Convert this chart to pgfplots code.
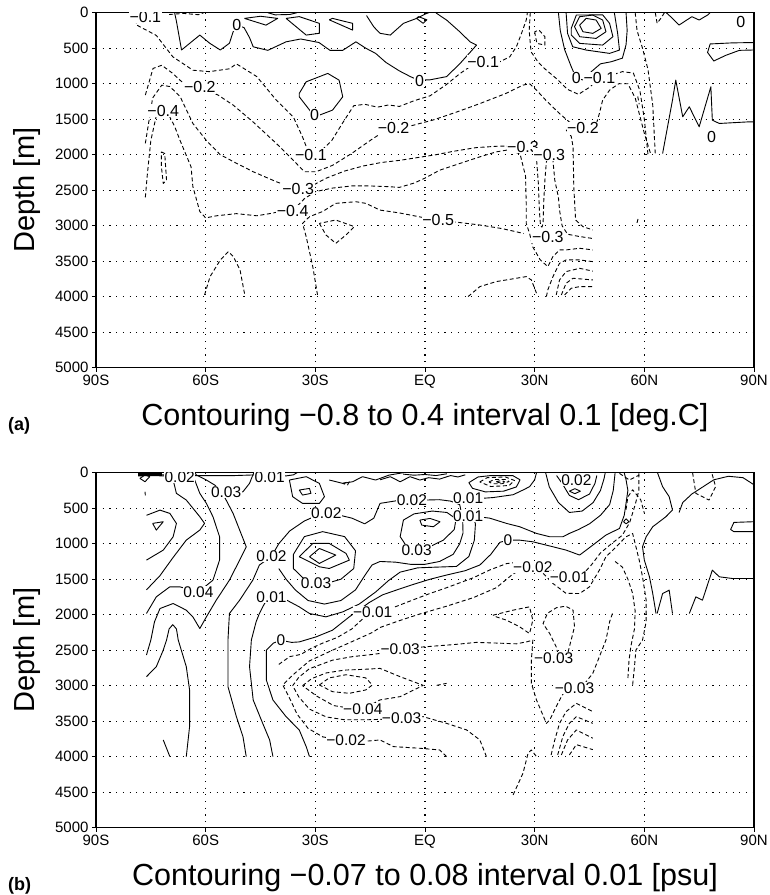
\documentclass[border=0pt]{standalone}
\usepackage{fontspec}
\setmainfont{Liberation Sans}
\usepackage{pgfplots}
\pgfplotsset{compat=1.18}
\tikzset{
  pl/.style={black, line width=0.9pt, line join=round},
  nl/.style={black, line width=0.9pt, line join=round, dash pattern=on 4pt off 2.6pt},
  lab/.style={fill=white, inner sep=0.6pt, font=\fontsize{16}{16}\selectfont},
  labb/.style={fill=white, inner sep=0.4pt, font=\fontsize{15.5}{16}\selectfont},
}
\pgfplotsset{
  panel/.style={
    anchor=north west,
    width=658pt, height=355pt, scale only axis,
    xmin=-90, xmax=90, ymin=0, ymax=5000, y dir=reverse,
    xtick={-90,-60,-30,0,30,60,90},
    xticklabels={90S,60S,30S,EQ,30N,60N,90N},
    ytick={0,500,1000,1500,2000,2500,3000,3500,4000,4500,5000},
    yticklabels={0,500,1000,1500,2000,2500,3000,3500,4000,4500,5000},
    grid=major,
    major grid style={black, line width=1.1pt, dash pattern=on 1.1pt off 5.6pt},
    tick align=outside, tick pos=left, major tick length=4pt,
    tick style={black, line width=1pt},
    axis line style={line width=1.5pt},
    tick label style={font=\fontsize{15}{16}\selectfont},
    clip=true,
  }
}
\begin{document}
\begin{tikzpicture}
\useasboundingbox (0pt,0pt) rectangle (770pt,-895pt);
% ================= PANEL A =================
\begin{axis}[panel, at={(96pt,-12.7pt)}]
% --- solid contours
\addplot[pl] coordinates {(-68.5,0)(-68,120)(-66.6,525)(-61.6,315)(-58.9,430)(-56,525)(-53.5,430)(-52.5,270)(-51.5,175)(-49.5,210)(-48,350)(-47,480)(-43,530)(-38,410)(-34,370)(-29,420)(-26,530)(-22.5,530)(-18.9,410)(-16.2,500)(-13.5,573)(-10.7,700)(-7,820)(-4,900)(-1.8,950)(1.4,945)(5.9,900)(9.5,720)(12.3,560)(14.1,456)(12.3,409)(9.5,268)(5.9,103)(3.2,10)(3,0)};
\addplot[pl] coordinates {(-16,40)(-14,200)(-12.3,290)(-9.5,315)(-5.9,150)(-2.3,80)(0,20)(1,0)};
\addplot[pl] coordinates {(-49.4,80)(-43.5,175)(-40.3,80)(-45,50)(-49.4,80)};
\addplot[pl] coordinates {(-38,80)(-32.5,315)(-28.9,290)(-28.9,150)(-34.4,55)(-38,80)};
\addplot[pl] coordinates {(-26.2,100)(-19.8,245)(-19.8,150)(-25.3,80)(-26.2,100)};
\addplot[pl] coordinates {(-2.3,80)(-0.5,150)(0.5,100)(-1.8,55)(-2.3,80)};
\addplot[pl] coordinates {(-43,0)(-41,30)(-37,25)(-35,0)};
\addplot[pl] coordinates {(-34.4,1137)(-32.5,973)(-26.6,855)(-23.5,950)(-22.5,1184)(-25.3,1372)(-28.9,1443)(-31.2,1396)(-34.4,1184)(-34.4,1137)};
\addplot[pl] coordinates {(42.3,174)(44.1,80)(46.8,103)(48.2,221)(45.9,291)(43.2,268)(42.3,174)};
\addplot[pl] coordinates {(40.9,197)(42.3,56)(45.9,33)(48.6,103)(49.5,268)(46.8,362)(42.3,338)(40.9,197)};
\addplot[pl] coordinates {(40,221)(41.4,33)(48.6,30)(50.5,150)(51.4,338)(48.6,456)(42.3,432)(40,315)(40,221)};
\addplot[pl] coordinates {(38.6,0)(39,291)(40.4,479)(44.1,526)(50.5,573)(53.2,526)(52.7,291)(51.8,0)};
\addplot[pl] coordinates {(36.5,0)(37,250)(38.2,520)(40,760)(41.4,925)(43.5,950)(45.5,830)(48,720)(51,690)(54,640)(55,450)(55.3,250)(55,0)};
\addplot[pl] coordinates {(65,1983)(67.7,1231)(68.6,950)(70.5,1466)(72.3,1325)(75,1607)(78.2,1043)(78.6,1513)(80.5,1560)(88.6,1537)(90,1537)};
\addplot[pl] coordinates {(90,420)(84,425)(78,440)(77.3,560)(79,680)(82.3,600)(86,530)(90,525)};
\addplot[pl] coordinates {(66,0)(67.7,80)(69.5,174)(73,56)(75,103)(77.3,33)(78,0)};
% --- dashed contours
\addplot[nl] coordinates {(-79,0)(-79,170)(-73.5,320)(-69,620)(-63.5,810)(-59,830)(-53.5,790)(-51.6,720)(-46,900)(-40.7,1230)(-36,1470)(-33.5,1750)(-32,1950)(-31.2,2000)(-28.5,1950)(-25.5,1800)(-22.5,1550)(-19.5,1310)(-16.5,1290)(-13,1330)(-10,1300)(-7,1320)(-3,1240)(1.4,1170)(5.9,1010)(9.5,860)(12.3,760)(14,700)(15.9,690)(18.5,690)(20.5,690)(23.2,620)(25,480)(26.4,291)(27.7,103)(28,0)};
\addplot[nl] coordinates {(28.8,0)(28.5,250)(29,550)(31,700)(33,800)(36,930)(39,1080)(42,1150)(45,1050)(47.7,925)(51,880)(54,830)(57,850)(58.8,1100)(60,1500)(61,2000)};
\addplot[nl] coordinates {(30,268)(30.6,432)(32.8,456)(32.8,338)(31.2,245)(30,268)};
\addplot[nl] coordinates {(-76.5,1160)(-74.4,785)(-72,740)(-69,855)(-66.6,970)(-61.6,1050)(-56.6,1160)(-52.5,1300)(-47,1540)(-40.7,1840)(-36,2080)(-33,2240)(-29.8,2240)(-25.3,2150)(-20,1980)(-15,1800)(-11.5,1680)(-8.6,1630)(-5,1610)(-1.4,1560)(2.3,1510)(8.6,1400)(15,1280)(22,1140)(26.8,1020)(28.6,1000)(30.5,1090)(33,1230)(36.8,1420)(39.5,1540)(43.2,1630)(46.8,1580)(47.7,1420)(48.6,1230)(50.5,1090)(53,1000)(55.5,1000)(57.5,1200)(59,1500)(60,1700)(61.8,2000)};
\addplot[nl] coordinates {(-76.5,1840)(-74.5,1200)(-72,1020)(-69.8,1040)(-67,1180)(-63.5,1560)(-59.8,1800)(-56,2000)(-51.6,2120)(-47,2240)(-40.7,2380)(-37,2450)(-34.7,2480)(-31,2440)(-27,2330)(-22,2230)(-17,2160)(-12,2110)(-7,2080)(-2,2040)(3,2000)(8,1950)(14,1900)(20,1880)(24,1880)(26.8,1890)(29.5,1900)(30.5,2050)(31,2400)(31.3,2800)(31.6,3000)(32,3020)(32.3,2970)(32.5,2640)(32.8,2357)(33.2,2100)(34,2000)(35,2080)(35.5,2357)(36.5,2600)(36.8,2780)(37.5,3000)(39,3120)(42,3150)(45.9,3180)};
\addplot[nl] coordinates {(38.6,1650)(40,1740)(40.5,1890)(40.7,2453)(41.2,2920)(43.2,3013)(45.9,3060)};
\addplot[nl] coordinates {(-76.5,2600)(-76,2300)(-75,1800)(-73.5,1450)(-71.6,1380)(-70,1450)(-68.5,1600)(-67,1800)(-64,2170)(-63.5,2450)(-61.6,2800)(-60,2890)(-57,2860)(-51.6,2830)(-46,2860)(-42.5,2830)(-38.6,2790)(-36.2,2790)(-33,2620)(-30,2520)(-25.3,2470)(-20,2440)(-15,2440)(-10,2450)(-7,2460)(-3,2400)(0,2330)(4,2218)(9.5,2124)(15,2030)(19.5,1960)(23,1930)(26,1990)(27.5,2300)(27.7,2700)(27.7,2970)(28.6,3107)(29.5,3300)(31.5,3480)(33.6,3576)(35,3435)(36.8,3341)(38.6,3341)(42.3,3318)(45.9,3341)};
\addplot[nl] coordinates {(-29.4,3975)(-30.7,3577)(-32.5,3155)(-33.5,2967)(-31.6,2873)(-28,2800)(-24.4,2685)(-18.9,2662)(-16.2,2685)(-12.3,2780)(-7,2820)(-1,2880)(3.6,2920)(8.6,2950)(15,2990)(21,3040)(24.5,3080)(27,3110)};
\addplot[nl] coordinates {(33.2,3998)(33.6,3904)(35,3717)(36.8,3530)(38.6,3482)(42.3,3482)(45.9,3506)};
\addplot[nl] coordinates {(35.9,3975)(36.8,3764)(38.6,3646)(42.3,3600)(45.9,3640)};
\addplot[nl] coordinates {(37.3,3975)(38.6,3811)(40.5,3740)(45.9,3764)};
\addplot[nl] coordinates {(38.2,3975)(40,3881)(42.3,3858)(45.9,3858)};
\addplot[nl] coordinates {(11.8,3998)(15,3858)(19.5,3787)(27.7,3717)(29.1,3764)(30.5,3951)};
\addplot[nl] coordinates {(-28.9,2967)(-27.1,3130)(-24.4,3248)(-21.6,3130)(-19.3,3013)(-24.4,2920)(-28.9,2967)};
\addplot[nl] coordinates {(-60.3,3975)(-58.8,3717)(-56,3483)(-53.8,3365)(-52.4,3436)(-50.6,3623)(-49.3,3975)};
\addplot[nl] coordinates {(-72.1,1960)(-71.2,1983)(-70.7,2360)(-71.6,2406)(-72.1,2172)(-72.1,1960)};
\addplot[nl] coordinates {(-70,25)(-66,10)(-62,28)(-60.5,0)};
\addplot[nl] coordinates {(57.5,0)(58,250)(59.5,500)(61,800)(62.3,1300)(63,2000)};
\addplot[nl] coordinates {(58.2,1180)(58.6,1290)};
\addplot[nl] coordinates {(58,2960)(58.4,2880)};
\addplot[nl] coordinates {(63,0)(63.5,150)(64.5,80)(65.5,0)};
% --- labels
\node[lab] at (axis cs:-76.5,55) {−0.1};
\node[lab] at (axis cs:-51.5,175) {0};
\node[lab] at (axis cs:-61.6,1050) {−0.2};
\node[lab] at (axis cs:-71.6,1380) {−0.4};
\node[lab] at (axis cs:-30.2,1440) {0};
\node[lab] at (axis cs:-31.2,2000) {−0.1};
\node[lab] at (axis cs:-34.7,2480) {−0.3};
\node[lab] at (axis cs:-36.2,2790) {−0.4};
\node[lab] at (axis cs:3.6,2920) {−0.5};
\node[lab] at (axis cs:-1.5,955) {0};
\node[lab] at (axis cs:15.9,690) {−0.1};
\node[lab] at (axis cs:-8.6,1630) {−0.2};
\node[lab] at (axis cs:41.4,925) {0};
\node[lab] at (axis cs:47.7,925) {−0.1};
\node[lab] at (axis cs:43.2,1630) {−0.2};
\node[lab] at (axis cs:26.8,1890) {−0.3};
\node[lab] at (axis cs:34,2000) {−0.3};
\node[lab] at (axis cs:33.6,3155) {−0.3};
\node[lab] at (axis cs:78.4,1750) {0};
\node[lab] at (axis cs:86.4,130) {0};
\end{axis}
% ================= PANEL B =================
\begin{axis}[panel, at={(96pt,-472.7pt)}]
% --- solid
\addplot[pl, line width=2.2pt] coordinates {(-78.5,25)(-72,25)};
\addplot[pl] coordinates {(-78.5,45)(-75,40)(-71.6,45)(-69,35)};
\addplot[pl] coordinates {(-78,80)(-76.6,127)(-75.3,56)(-76.6,33)(-78,80)};
\addplot[pl] coordinates {(-76.6,268)(-76.5,320)};
\addplot[pl] coordinates {(-72,28)(-67,50)(-62.5,40)(-58,42)(-52,40)(-46,30)(-42.5,50)(-38,45)(-36,30)(-35,0)};
\addplot[pl] coordinates {(-63,0)(-62.5,33)(-59.8,103)(-57.5,174)(-56.2,244)(-54.4,268)(-52.5,291)(-49.8,268)(-48,150)(-47.1,33)(-46.8,0)};
\addplot[pl] coordinates {(-76.2,600)(-72.5,527)(-69.8,573)(-68,714)(-68.9,902)(-71.6,1090)(-76.2,1231)};
\addplot[pl] coordinates {(-74.5,714)(-71.6,690)(-73.5,808)(-74.5,714)};
\addplot[pl] coordinates {(-68.9,0)(-68.9,103)(-68,291)(-65.3,385)(-61.6,620)(-60.3,714)(-61.6,808)(-65.3,949)(-69,1200)(-72.5,1450)(-76.2,1650)};
\addplot[pl] coordinates {(-76.2,1983)(-73.5,1748)(-69.8,1607)(-67.1,1607)(-62,1680)(-58,1513)(-56.2,1231)(-56.2,902)(-58,620)(-59.8,432)(-61.6,291)(-63,103)(-64.5,0)};
\addplot[pl] coordinates {(-76.2,2568)(-75,2357)(-74,2100)(-72.5,1913)(-68.9,1842)(-65.3,1936)(-63.5,2030)(-61.6,2195)(-59.8,2030)(-57.1,1795)(-53.5,1513)(-50.7,1231)(-48.9,1043)(-50.7,808)(-52.5,573)(-54.4,385)(-55,330)};
\addplot[pl] coordinates {(-76.2,2873)(-73.5,2732)(-71.6,2498)(-70.7,2357)(-70,2200)(-69,2140)(-68,2200)(-67.5,2357)(-65.3,2732)(-64.4,3060)(-64.4,3576)(-65.3,3998)};
\addplot[pl] coordinates {(-71.6,3764)(-69.8,3998)};
\addplot[pl] coordinates {(-48.9,3998)(-49.8,3717)(-51.6,3436)(-53.9,3013)(-53.9,2357)(-53.5,1983)(-50.7,1795)(-47.1,1513)(-45.3,1300)(-42,1180)(-40,1000)(-37,820)(-33,680)(-29.5,600)(-27,573)(-24,590)(-20,640)(-16.5,720)(-14,640)(-12.3,432)(-7.7,394)(-3.6,385)(0,385)(4,380)(7,400)(9.5,450)(10.3,650)(10.4,850)(9.5,1000)(7.7,1150)(4,1250)(0,1290)(-4,1290)(-8,1260)(-12.3,1250)(-14.5,1300)(-16.5,1450)(-19,1650)(-23,1800)(-27.5,1850)(-32,1800)(-35.5,1650)(-38,1500)(-40,1350)};
\addplot[pl] coordinates {(-36,1150)(-33,900)(-28,830)(-22,900)(-19,1100)(-19.5,1350)(-23,1500)(-27,1560)(-29.8,1560)(-33,1500)(-36,1350)(-36,1150)};
\addplot[pl] coordinates {(-34.4,1184)(-30.7,996)(-26.2,996)(-21.6,1137)(-20.7,1231)(-26.2,1349)(-28.9,1325)(-32.5,1231)(-34.4,1184)};
\addplot[pl] coordinates {(-31.6,1184)(-28.9,1067)(-24.4,1160)(-28.9,1278)(-31.6,1184)};
\addplot[pl] coordinates {(-5.9,667)(-6.8,900)(-5,1040)(-2.3,1090)(1,1050)(5,950)(8,800)(8.5,650)(6,560)(2,540)(-3,580)(-5.9,667)};
\addplot[pl] coordinates {(-1.4,667)(1.4,644)(4.1,691)(2.3,761)(-0.9,738)(-1.4,667)};
\addplot[pl] coordinates {(10.5,370)(13.2,370)(18.6,350)(24.1,310)(26.8,244)(28.6,197)(30,100)(30.5,0)};
\addplot[pl] coordinates {(-41.6,3998)(-42.5,3764)(-44.4,3530)(-47,3201)(-48,2732)(-47.5,2357)(-46.2,2100)(-45.3,1983)(-43.9,1842)(-42,1750)(-38,1790)(-34.4,1889)(-31.6,1983)(-27.1,2030)(-22.5,1960)(-18,1850)(-13.5,1680)(-10,1520)(-6.8,1400)(-2,1340)(3,1330)(8.6,1320)(12,1180)(13.5,950)(13.8,720)(13,610)(17.7,640)(22.3,714)(25.9,761)(30.5,855)(34.1,902)(37.7,902)(39.5,855)(42,800)(45,720)(48,600)(50.5,450)(51.5,250)(52,0)};
\addplot[pl] coordinates {(-31.6,3998)(-32.5,3858)(-34.4,3623)(-38,3436)(-41.6,3201)(-43.4,2920)(-43.4,2498)(-41.5,2400)(-39.4,2360)(-36.5,2390)(-34.4,2383)(-29.8,2312)(-25.3,2218)(-20.7,2030)(-15.3,1830)(-11.6,1720)(-7.1,1640)(-3,1570)(1.4,1500)(6,1440)(11,1380)(15,1300)(18,1150)(20.5,980)(22.7,950)(25.9,950)(29.5,973)(35,1043)(38.6,1090)(42.3,1160)(45.9,1020)(49.5,878)(53.2,785)(54.5,600)(55,430)(55.5,250)(55,100)(54.5,0)};
\addplot[pl] coordinates {(-26.2,103)(-22.5,150)(-19.8,127)(-17.1,56)(-13.5,103)(-9.8,33)(-7.1,10)(-6,0)};
\addplot[pl] coordinates {(-37.1,103)(-36.2,338)(-33.5,432)(-28.9,432)(-27.5,338)(-28.9,150)(-32.5,56)(-37.1,103)};
\addplot[pl] coordinates {(-34.4,244)(-31.6,221)(-31.2,291)(-33.5,315)(-34.4,244)};
\addplot[pl] coordinates {(-12.3,100)(-9.5,56)(-6.8,127)(-4.1,56)(-1.4,103)(1,70)(4,90)(7,40)(9,60)(11,30)};
\addplot[pl] coordinates {(-6,20)(-3,35)(0,25)(3,40)(6,15)};
\addplot[pl] coordinates {(12,140)(14.5,60)(18,40)(24,40)(26,100)(25,200)(21.5,260)(16.5,270)(13,220)(12,140)};
\addplot[pl] coordinates {(33,0)(34,200)(36.5,420)(39.5,560)(43,540)(46,420)(48,250)(49,80)(49.3,0)};
\addplot[pl] coordinates {(36,40)(37.5,150)(39.5,320)(42,380)(45,300)(46.5,150)(47,40)};
\addplot[pl] coordinates {(39.5,260)(41,225)(42.5,260)(41,295)(39.5,260)};
\addplot[pl] coordinates {(54.3,690)(55,650)(55.8,690)(55,720)(54.3,690)};
\addplot[pl] coordinates {(63.6,0)(65,197)(66.8,338)(67.7,526)(65.9,620)(62.3,761)(60.5,902)(59.5,1043)(60,1231)(61.4,1466)(62.3,1701)(63.2,1983)};
\addplot[pl] coordinates {(90,170)(87,70)(83,50)(79,100)(76,200)(73,300)(70.5,420)(69.5,560)};
\addplot[pl] coordinates {(63.5,1983)(65,1701)(66.8,1654)(67.7,1983)};
\addplot[pl] coordinates {(72.3,1983)(74.1,1748)(75.9,1795)(78.6,1372)(80.5,1466)(84.1,1490)(90,1490)};
\addplot[pl] coordinates {(90,690)(84.5,700)(83.6,800)(84.5,830)(90,830)};
% --- dashed
\addplot[nl] coordinates {(-22.5,150)(-20.7,127)(-21.2,174)(-22.5,150)};
\addplot[nl] coordinates {(15,130)(17,70)(22,60)(24.5,110)(23,180)(18,195)(15,130)};
\addplot[nl] coordinates {(17.5,130)(19,95)(22,95)(23,125)(21,155)(18.5,155)(17.5,130)};
\addplot[nl] coordinates {(19.5,125)(21,110)(21.8,130)(20.3,142)(19.5,125)};
\addplot[nl] coordinates {(73.2,0)(74.1,291)(77.7,385)(79.5,197)(78.6,30)(78.3,0)};
\addplot[nl] coordinates {(53.2,10)(55.9,103)(58.6,33)};
\addplot[nl] coordinates {(55,520)(55.5,340)(56.8,240)(59,380)(60,570)};
\addplot[nl] coordinates {(-40,2700)(-37,2590)(-34,2560)(-31,2470)(-28,2400)(-24,2320)(-20,2200)(-17.5,2080)(-15.3,1980)(-11.5,1950)(-7.7,1880)(-3.2,1790)(1.4,1700)(5.9,1620)(13.2,1480)(17.7,1370)(22.3,1280)(26.8,1250)(31,1270)(35,1380)(39.5,1470)(43,1440)(45.5,1300)(48,1130)(51,1000)(54,880)(56,700)(57.5,450)(58.5,250)(58.5,0)};
\addplot[nl] coordinates {(5.9,3998)(4,3905)(-1.4,3881)(-8.6,3858)(-12.3,3764)(-18,3790)(-21.6,3764)(-24,3760)(-28,3720)(-32,3600)(-35,3400)(-37,3180)(-38.9,2990)(-36.2,2850)(-31.6,2650)(-25.3,2500)(-20,2380)(-14.4,2250)(-12.3,2180)(-6.8,2080)(-1.4,1990)(5.9,1880)(13.2,1760)(19.5,1620)(24,1430)(27,1340)(29.5,1330)(32,1400)(35,1560)(38.6,1700)(42.3,1701)(45,1607)(47.7,1372)(49.5,1184)(51.4,1090)(55,902)(56.8,855)(57.7,1043)(58.6,1231)(59.5,1466)(60.5,1795)(60.5,2100)(59.5,2357)(57.7,2498)(57.3,2732)(56.8,2990)};
\addplot[nl] coordinates {(16.8,3998)(15,3764)(11.4,3623)(5.9,3530)(-0.5,3436)(-6.4,3460)(-10,3470)(-16,3480)(-22,3480)(-27,3440)(-31.6,3330)(-34.5,3160)(-36.2,3000)(-34.5,2880)(-31.6,2760)(-25.3,2640)(-19.8,2590)(-14.4,2560)(-10,2530)(-6.8,2490)(-2,2460)(3,2440)(8,2420)(14,2390)(20,2400)(25,2410)(28,2380)(29.5,2357)(29.1,2638)(29.1,2967)(30.5,3201)(33.2,3530)(34.1,3483)(35.9,3295)(37.3,3154)(38.5,3060)(40.9,3037)(43.2,3000)(45.9,2826)(47.7,2592)(49.5,2357)(50.5,2100)(51.5,1950)};
\addplot[nl] coordinates {(-33.5,3000)(-31,2900)(-27,2820)(-22,2780)(-17,2770)(-12.3,2756)(-6.8,2873)(-0.5,2995)(-6.8,3154)(-12.3,3200)(-15.5,3290)(-20,3320)(-25,3280)(-29.5,3150)(-33.5,3000)};
\addplot[nl] coordinates {(-28.9,2990)(-26.2,2890)(-21.6,2845)(-16.2,2890)(-14.4,2990)(-16.2,3060)(-20.7,3107)(-25.3,3084)(-28.9,2990)};
\addplot[nl] coordinates {(3.2,2995)(5.9,2967)};
\addplot[nl] coordinates {(18.6,2007)(24.1,1936)(28.6,1889)(29.5,2077)(28.6,2265)(25.9,2171)(22.3,2077)(19.5,2030)(18.6,2007)};
\addplot[nl] coordinates {(36.8,2640)(35.9,2453)(34.1,2265)(32.3,2124)(33.5,1980)(36,1900)(38.5,1880)(40.5,1936)(40.9,2171)(39.5,2453)(38.6,2640)};
\addplot[nl] coordinates {(34.5,3975)(35.5,3764)(36.8,3530)(38.6,3365)(41.4,3248)(45.9,3365)};
\addplot[nl] coordinates {(36.3,3975)(37.7,3717)(39.5,3530)(41.4,3436)(45.9,3530)};
\addplot[nl] coordinates {(37.3,3975)(39,3764)(41.4,3623)(45.9,3740)};
\addplot[nl] coordinates {(39.5,3975)(41.4,3830)(45.9,3900)};
\addplot[nl] coordinates {(24.1,4538)(26.8,4233)(28.2,3951)(29.1,3905)(30.5,3998)};
\addplot[nl] coordinates {(52,1250)(54,1330)(55.5,1500)(56.8,1700)(57.5,1950)(57.3,2200)(56.3,2450)(55.8,2650)(55.5,2900)};
% --- labels
\node[labb] at (axis cs:-67.1,56) {0.02};
\node[labb] at (axis cs:-54.4,268) {0.03};
\node[labb] at (axis cs:-42.5,56) {0.01};
\node[labb] at (axis cs:-27,573) {0.02};
\node[labb] at (axis cs:-42,1180) {0.02};
\node[labb] at (axis cs:-29.8,1560) {0.03};
\node[labb] at (axis cs:-62,1680) {0.04};
\node[labb] at (axis cs:-42,1750) {0.01};
\node[labb] at (axis cs:-39.4,2360) {0};
\node[labb] at (axis cs:-14.3,1960) {−0.01};
\node[labb] at (axis cs:-3.6,385) {0.02};
\node[labb] at (axis cs:11.8,360) {0.01};
\node[labb] at (axis cs:11.8,610) {0.01};
\node[labb] at (axis cs:-2.3,1090) {0.03};
\node[labb] at (axis cs:22.7,950) {0};
\node[labb] at (axis cs:29.5,1330) {−0.02};
\node[labb] at (axis cs:39.5,1470) {−0.01};
\node[labb] at (axis cs:41.4,100) {0.02};
\node[labb] at (axis cs:-6.8,2490) {−0.03};
\node[labb] at (axis cs:35.2,2615) {−0.03};
\node[labb] at (axis cs:40.9,3037) {−0.03};
\node[labb] at (axis cs:-17,3330) {−0.04};
\node[labb] at (axis cs:-6.4,3460) {−0.03};
\node[labb] at (axis cs:-21.6,3764) {−0.02};
\end{axis}
% ================= outer texts =================
\node[rotate=90, font=\fontsize{29}{30}\selectfont] at (27pt,-190pt) {Depth [m]};
\node[rotate=90, font=\fontsize{29}{30}\selectfont] at (27pt,-650pt) {Depth [m]};
\node[anchor=base, font=\fontsize{30.5}{32}\selectfont] at (425pt,-425pt) {Contouring −0.8 to 0.4 interval 0.1 [deg.C]};
\node[anchor=base, font=\fontsize{30.5}{32}\selectfont] at (425pt,-885pt) {Contouring −0.07 to 0.08 interval 0.01 [psu]};
\node[anchor=base west, inner sep=0pt, font=\bfseries\fontsize{18}{20}\selectfont] at (8pt,-430pt) {(a)};
\node[anchor=base west, inner sep=0pt, font=\bfseries\fontsize{18}{20}\selectfont] at (8pt,-890pt) {(b)};
\end{tikzpicture}
\end{document}
